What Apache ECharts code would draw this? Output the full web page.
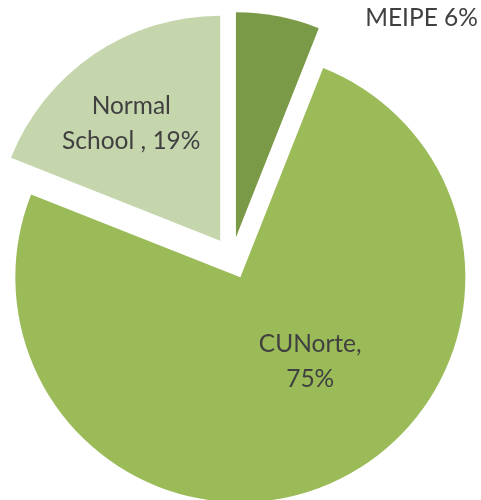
<!DOCTYPE html>
<html>
<head>
<meta charset="utf-8">
<script src="https://cdn.jsdelivr.net/npm/echarts@6/dist/echarts.min.js"></script>
<style>
html,body{margin:0;padding:0;background:#fff;}
#main{width:481px;height:500px;}
</style>
</head>
<body>
<div id="main"></div>
<script>
const categories = ['MEIPE', 'CUNorte', 'Normal School'];
const values = [6, 75, 19];
const labelTexts = ['MEIPE 6%', 'CUNorte,\n75%', 'Normal\nSchool , 19%'];
const colors = ['#7B9A47', '#9BBB59', '#C5D6AD'];
// label nudges relative to the default inside position
const labelShift = [[164, -106], [24, -22], [-24, -22]];

const chart = echarts.init(document.getElementById('main'), null, {renderer: 'canvas'});
chart.setOption({
  animation: false,
  series: [{
    type: 'pie',
    center: [232, 258],
    radius: [0, 225],
    startAngle: 90,
    clockwise: true,
    selectedMode: 'multiple',
    selectedOffset: 21,
    avoidLabelOverlap: false,
    label: {
      show: true,
      position: 'inside',
      fontFamily: 'Lato',
      fontSize: 24.5,
      lineHeight: 35,
      color: '#404040',
      align: 'center',
      formatter: p => labelTexts[p.dataIndex]
    },
    labelLine: {show: false},
    labelLayout: p => ({dx: labelShift[p.dataIndex][0], dy: labelShift[p.dataIndex][1]}),
    emphasis: {disabled: true},
    itemStyle: {borderWidth: 0},
    data: categories.map((c, i) => ({
      name: c, value: values[i], selected: true,
      itemStyle: {color: colors[i]}
    }))
  }]
});
</script>
</body>
</html>
